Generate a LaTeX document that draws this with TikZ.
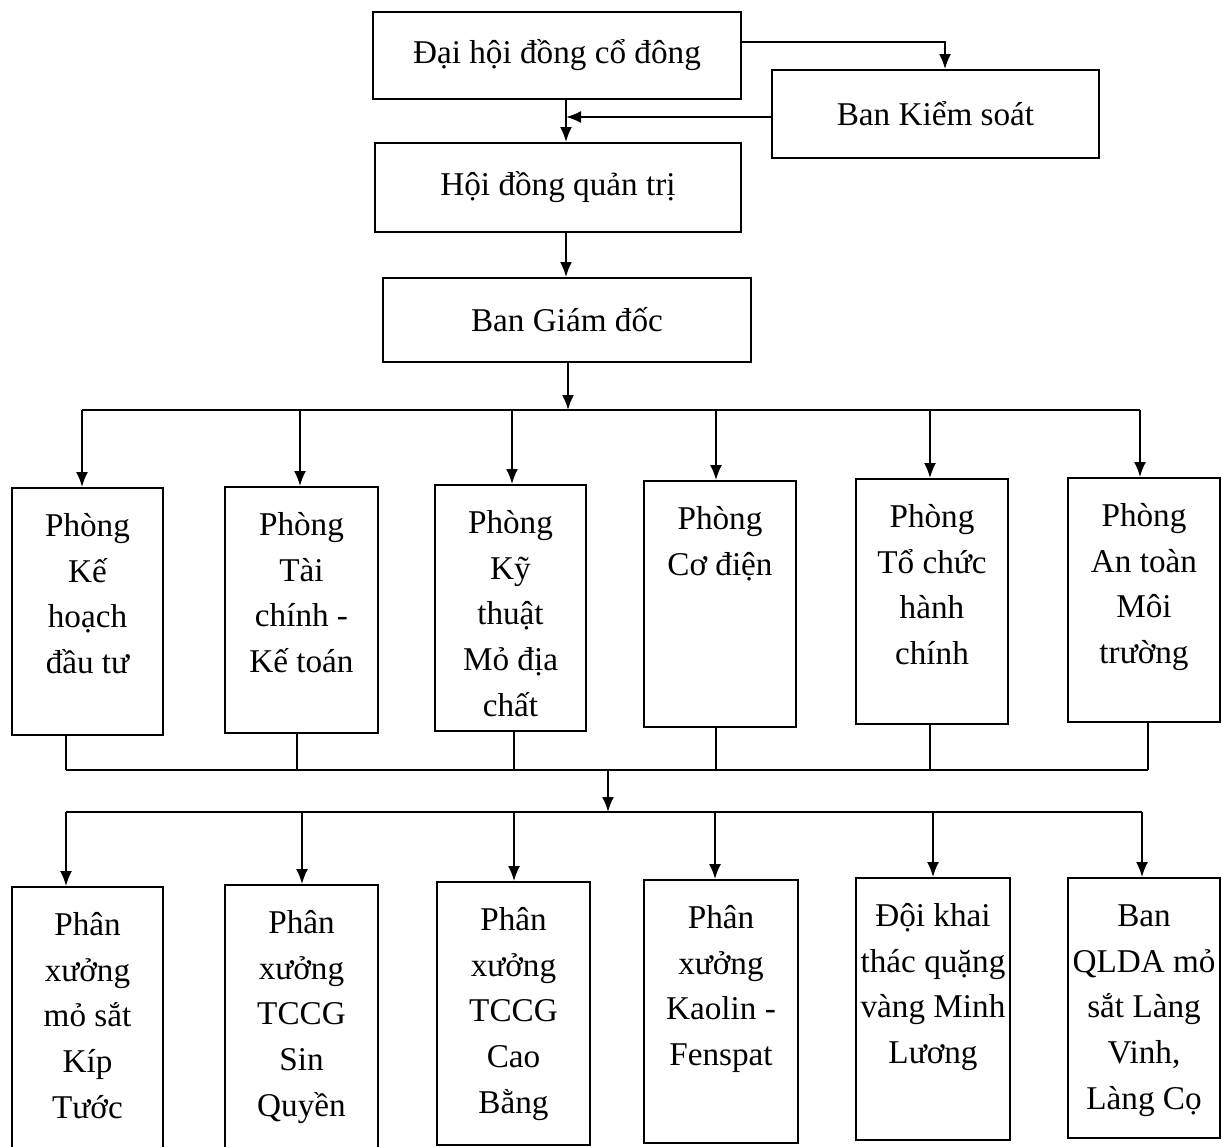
\documentclass[tikz,border=0pt]{standalone}
\usepackage{fontspec}
\setmainfont{Liberation Serif}
\usetikzlibrary{arrows.meta}
\newcommand\colbox[3]{\parbox[c][#2][t]{#1}{\centering\rule{0pt}{0.97cm}#3}}
\begin{document}
\begin{tikzpicture}[x=0.02cm,y=-0.02cm, line width=1.1pt,
  box/.style={draw, inner sep=0pt, font=\fontsize{18.9}{26}\selectfont},
  arr/.style={-{Latex[length=0.3cm,width=0.24cm]}}]
\useasboundingbox (0,0) rectangle (1223,1146);
% top boxes
\node[box, minimum width=7.36cm, minimum height=1.74cm] (dh) at (557,55.5) {Đại hội đồng cổ đông};
\node[box, minimum width=6.54cm, minimum height=1.76cm] (bk) at (935.5,114) {Ban Kiểm soát};
\node[box, minimum width=7.32cm, minimum height=1.78cm] (hd) at (558,187.5) {Hội đồng quản trị};
\node[box, minimum width=7.36cm, minimum height=1.68cm] (bg) at (567,320) {Ban Giám đốc};
% row 1
\node[box] (r1a) at (87.5,611.5) {\colbox{3.02cm}{4.94cm}{Phòng\\Kế\\hoạch\\đầu tư}};
\node[box] (r1b) at (301.5,610) {\colbox{3.06cm}{4.92cm}{Phòng\\Tài\\chính -\\Kế toán}};
\node[box] (r1c) at (510.5,608) {\colbox{3.02cm}{4.92cm}{Phòng\\Kỹ\\thuật\\Mỏ địa\\chất}};
\node[box] (r1d) at (720,604) {\colbox{3.04cm}{4.92cm}{Phòng\\Cơ điện}};
\node[box] (r1e) at (932,601.5) {\colbox{3.04cm}{4.90cm}{Phòng\\Tổ chức\\hành\\chính}};
\node[box] (r1f) at (1144,600) {\colbox{3.04cm}{4.88cm}{Phòng\\An toàn\\Môi\\trường}};
% row 2
\node[box] (r2a) at (87.5,1018.5) {\colbox{3.02cm}{5.26cm}{Phân\\xưởng\\mỏ sắt\\Kíp\\Tước}};
\node[box] (r2b) at (301.5,1017) {\colbox{3.06cm}{5.28cm}{Phân\\xưởng\\TCCG\\Sin\\Quyền}};
\node[box] (r2c) at (513.5,1013.5) {\colbox{3.06cm}{5.26cm}{Phân\\xưởng\\TCCG\\Cao\\Bằng}};
\node[box] (r2d) at (721,1011.5) {\colbox{3.08cm}{5.26cm}{Phân\\xưởng\\Kaolin -\\Fenspat}};
\node[box] (r2e) at (933,1009) {\colbox{3.08cm}{5.24cm}{Đội khai\\thác quặng\\vàng Minh\\Lương}};
\node[box] (r2f) at (1144,1008) {\colbox{3.04cm}{5.20cm}{Ban\\QLDA mỏ\\sắt Làng\\Vinh,\\Làng Cọ}};
% top connectors
\coordinate (abk) at (945,42);
\coordinate (j1) at (566,117);
\coordinate (j2) at (568,410);
\draw[arr] (dh.east |- abk) -- (abk) -- (abk |- bk.north);
\draw[arr] (bk.west |- j1) -- (j1);
\draw[arr] (dh.south -| j1) -- (j1 |- hd.north);
\draw[arr] (hd.south -| j1) -- (j1 |- bg.north);
\draw[arr] (bg.south -| j2) -- (j2);
% bus 1
\coordinate (t1) at (82,410);
\coordinate (t2) at (300,410);
\coordinate (t3) at (512,410);
\coordinate (t4) at (716,410);
\coordinate (t5) at (930,410);
\coordinate (t6) at (1140,410);
\draw (t1) -- (t6);
\draw[arr] (t1) -- (t1 |- r1a.north);
\draw[arr] (t2) -- (t2 |- r1b.north);
\draw[arr] (t3) -- (t3 |- r1c.north);
\draw[arr] (t4) -- (t4 |- r1d.north);
\draw[arr] (t5) -- (t5 |- r1e.north);
\draw[arr] (t6) -- (t6 |- r1f.north);
% collector
\coordinate (b1) at (66,770);
\coordinate (b2) at (297,770);
\coordinate (b3) at (514,770);
\coordinate (b4) at (716,770);
\coordinate (b5) at (930,770);
\coordinate (b6) at (1148,770);
\draw (b1) -- (b6);
\draw (r1a.south -| b1) -- (b1);
\draw (r1b.south -| b2) -- (b2);
\draw (r1c.south -| b3) -- (b3);
\draw (r1d.south -| b4) -- (b4);
\draw (r1e.south -| b5) -- (b5);
\draw (r1f.south -| b6) -- (b6);
\coordinate (j3) at (608,770);
\coordinate (j4) at (608,812);
\draw[arr] (j3) -- (j4);
% bus 2
\coordinate (u1) at (66,812);
\coordinate (u2) at (302,812);
\coordinate (u3) at (514,812);
\coordinate (u4) at (715,812);
\coordinate (u5) at (933,812);
\coordinate (u6) at (1142,812);
\draw (u1) -- (u6);
\draw[arr] (u1) -- (u1 |- r2a.north);
\draw[arr] (u2) -- (u2 |- r2b.north);
\draw[arr] (u3) -- (u3 |- r2c.north);
\draw[arr] (u4) -- (u4 |- r2d.north);
\draw[arr] (u5) -- (u5 |- r2e.north);
\draw[arr] (u6) -- (u6 |- r2f.north);
\end{tikzpicture}
\end{document}
